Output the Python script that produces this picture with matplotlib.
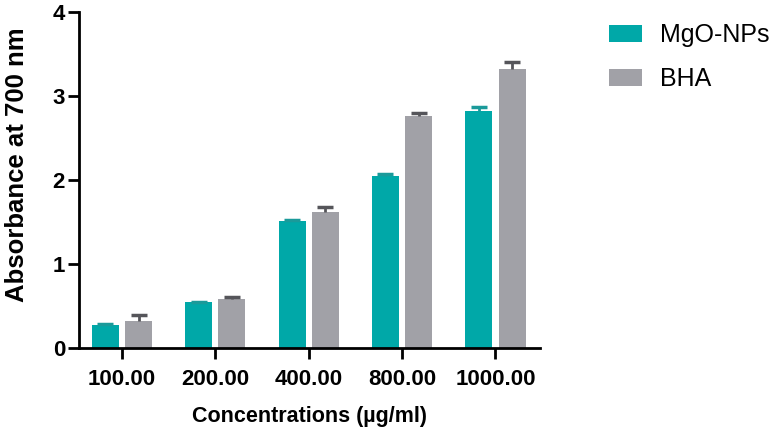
import matplotlib.pyplot as plt
import numpy as np

plt.rcParams['font.family'] = ['Liberation Sans', 'DejaVu Sans']

concentrations = ["100.00", "200.00", "400.00", "800.00", "1000.00"]
mgo = [0.27, 0.54, 1.505, 2.05, 2.82]
mgo_err = [0.01, 0.01, 0.015, 0.02, 0.05]
bha = [0.32, 0.58, 1.615, 2.76, 3.32]
bha_err = [0.07, 0.02, 0.06, 0.04, 0.08]

teal = "#00A8A8"
grey = "#A1A1A7"

fig = plt.figure(figsize=(7.74, 4.38), dpi=100)
ax = fig.add_axes([0.102, 0.206, 0.596, 0.767])

x = np.arange(len(concentrations))
w = 0.29
off = 0.178

ax.bar(x - off, mgo, w, color=teal, label="MgO-NPs")
ax.bar(x + off, bha, w, color=grey, label="BHA")
# upper-only error bars: hide the lower cap
for xs, ys, es, c in [(x - off, mgo, mgo_err, "#1a9a9a"), (x + off, bha, bha_err, "#55555a")]:
    eb = ax.errorbar(xs, ys, yerr=[np.zeros(5), es], fmt="none",
                     ecolor=c, elinewidth=2, capsize=6, capthick=2.5)
    eb[1][0].set_visible(False)

ax.set_xlim(-0.46, 4.48)
ax.set_ylim(0, 4)
ax.set_yticks([0, 1, 2, 3, 4])
ax.set_xticks(x)
ax.set_xticklabels(concentrations)

for s in ["top", "right"]:
    ax.spines[s].set_visible(False)
for s in ["left", "bottom"]:
    ax.spines[s].set_linewidth(2)
ax.tick_params(axis="both", width=2, length=8, labelsize=16)
ax.tick_params(axis="x", pad=7)
ax.tick_params(axis="y", pad=2)
for lab in ax.get_xticklabels() + ax.get_yticklabels():
    lab.set_fontweight("bold")

ax.set_xlabel("Concentrations (\u00b5g/ml)", fontsize=15.5, fontweight="bold", labelpad=12)
ax.set_ylabel("Absorbance at 700 nm", fontsize=18.5, fontweight="bold", labelpad=17)
ax.yaxis.label.set_y(0.544)

fig.legend(loc="upper left", bbox_to_anchor=(609 / 774, 0.947), frameon=False,
           fontsize=18, borderpad=0, borderaxespad=0, handlelength=1.32,
           handleheight=0.68, labelspacing=0.8, handletextpad=0.72)

fig.savefig("out.png", dpi=100)
